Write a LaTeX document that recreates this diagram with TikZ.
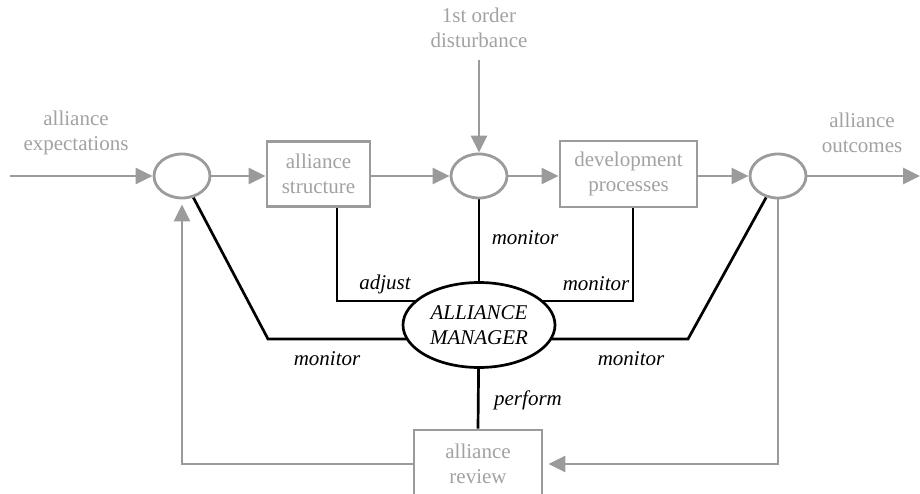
\documentclass[tikz,border=0pt]{standalone}
\usepackage{fontspec}
\setmainfont{Liberation Serif}
\usetikzlibrary{shapes.geometric,arrows.meta,calc}
\pgfdeclarelayer{background}
\pgfsetlayers{background,main}
\definecolor{linegray}{RGB}{155,155,155}
\definecolor{textgray}{RGB}{162,162,162}
\begin{document}
\begin{tikzpicture}[x=1pt,y=-1pt,
  every node/.style={font=\fontsize{21}{25}\selectfont, align=center, inner sep=0pt},
  sumnode/.style={ellipse, draw=linegray, line width=2.8pt, fill=white,
    minimum width=56pt, minimum height=44pt},
  blockbox/.style={rectangle, draw=linegray, line width=2.8pt, fill=white,
    text=textgray},
  graylabel/.style={text=textgray},
  mgrnode/.style={ellipse, draw=black, line width=2.7pt, fill=white,
    minimum width=152pt, minimum height=85pt, font=\fontsize{21}{25}\selectfont\itshape},
  verb/.style={font=\fontsize{21}{25}\selectfont\itshape},
  flow/.style={draw=linegray, line width=2.8pt,
    -{Triangle[length=17pt,width=16pt]}, color=linegray},
  ctl/.style={draw=black, line width=2.7pt}]
\useasboundingbox (0,0) rectangle (920,494);
\clip (0,0) rectangle (920,494);

% summing junctions and blocks of the main loop
\node[sumnode] (s1) at (182,176) {};
\node[blockbox, minimum width=103pt, minimum height=65pt] (struct) at (318.5,174) {alliance\\structure};
\node[sumnode] (s2) at (479,176) {};
\node[blockbox, minimum width=137pt, minimum height=66pt] (dev) at (628.5,174) {development\\processes};
\node[sumnode] (s3) at (778,176) {};

% manager and review
\node[mgrnode] (mgr) at (479,325) {ALLIANCE\\MANAGER};
\node[blockbox, minimum width=128pt, minimum height=68pt] (review) at (478,464) {alliance\\review};

% external inputs and outputs
\node[graylabel] (expect) at (76,133) {alliance\\expectations};
\node[graylabel] (dist) at (479,28) {1st order\\disturbance};
\node[graylabel] (outc) at (862,133) {alliance\\outcomes};
\coordinate (inL) at (10,176);
\coordinate (outR) at (920,176);
\coordinate (dtop) at (479,60);

% forward flow
\draw[flow] (inL) -- (s1.west);
\draw[flow] (s1.east) -- (s1.east -| struct.west);
\draw[flow] (s1.east -| struct.east) -- (s2.west);
\draw[flow] (s2.east) -- (s2.east -| dev.west);
\draw[flow] (s2.east -| dev.east) -- (s3.west);
\draw[flow] (s3.east) -- (outR);
\draw[flow] (dtop) -- (s2.north);

% feedback through the review
\draw[flow, shorten >=5pt] (s3.south) |- (review.east);
\draw[flow, shorten >=5pt] (review.west) -| (s1.south);

% manager links
\coordinate (cl) at (268,339);
\coordinate (cr) at (688,339);
\begin{pgfonlayer}{background}
  \draw[ctl] ($(struct.south)+(18.5,0)$) |- ($(mgr.center)+(0,-24)$);
  \draw[ctl] ($(dev.south)+(4.5,0)$) |- ($(mgr.center)+(0,-24)$);
  \draw[ctl] (s2.south) -- (mgr.center);
  \draw[ctl] (s1) -- (cl) -- ($(mgr.center)+(0,14)$);
  \draw[ctl] (s3) -- (cr) -- ($(mgr.center)+(0,14)$);
  \draw[ctl] (mgr.center) -- (review.north);
\end{pgfonlayer}

% link labels
\node[verb] (ladj) at (385,284) {adjust};
\node[verb] (lmon1) at (525,238) {monitor};
\node[verb] (lmon2) at (596,284) {monitor};
\node[verb] (lmon3) at (327,359) {monitor};
\node[verb] (lmon4) at (631,359) {monitor};
\node[verb] (lperf) at (528,400) {perform};
\end{tikzpicture}
\end{document}
